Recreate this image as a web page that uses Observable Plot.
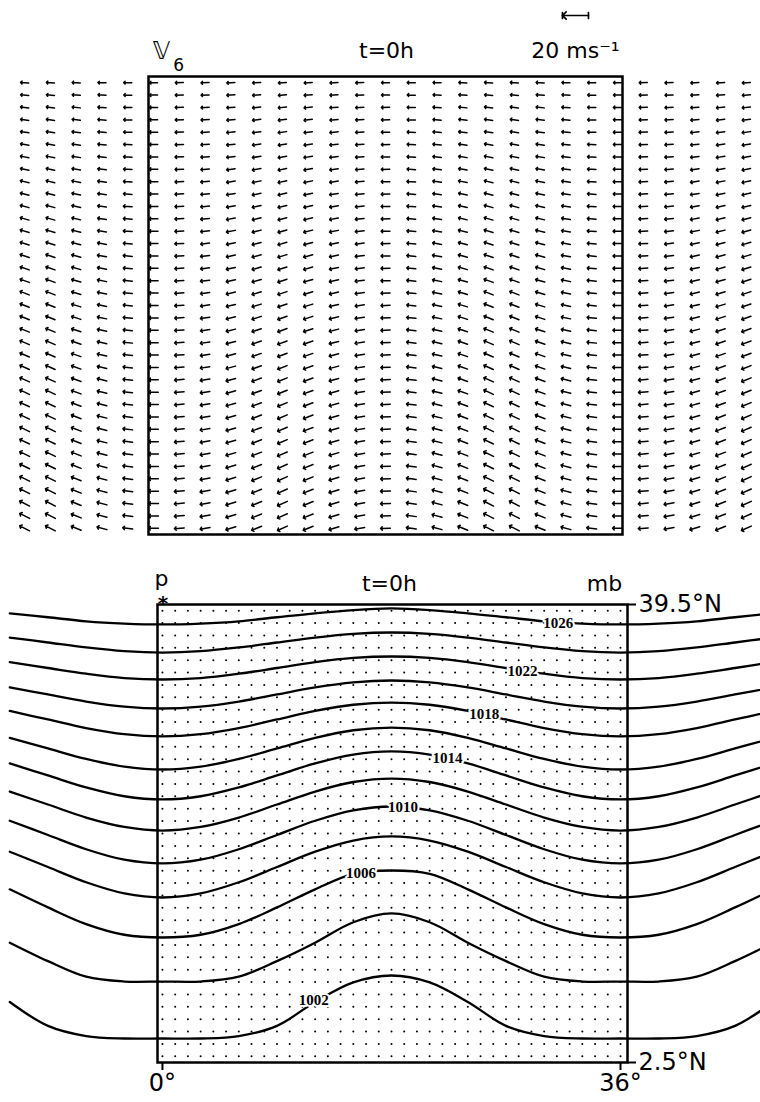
<!DOCTYPE html>
<html><head><meta charset="utf-8">
<script src="https://cdn.jsdelivr.net/npm/d3@7"></script>
<script src="https://cdn.jsdelivr.net/npm/@observablehq/plot@0.6"></script>
<style>
html,body{margin:0;padding:0;background:#fff;}
#chart svg{display:block;}
</style></head>
<body><div id="chart"></div>
<script>
// ---------- DATA ----------
const period = 36; // zonally periodic channel, degrees of longitude

// wind vectors (top panel), interior grid
const windLon = [0,2,4,6,8,10,12,14,16,18,20,22,24,26,28,30,32,34,36];
const windLat = [39,38,37,36,35,34,33,32,31,30,29,28,27,26,25,24,23,22,21,20,19,18,17,16,15,14,13,12,11,10,9,8,7,6,5,4,3];
// westward (zonal) wind speed per row, m/s
const windU = [6.2,6.2,6.3,6.3,6.4,6.4,6.5,6.5,6.6,6.6,6.7,6.7,6.8,6.8,6.9,6.9,7.0,7.0,7.0,7.1,7.1,7.2,7.2,7.2,7.3,7.3,7.3,7.4,7.4,7.4,7.5,7.5,7.5,7.6,7.6,7.6,7.6];
// arrow tilt from due west, degrees (+ toward north, - toward south), rows = windLat, cols = windLon
const windTilt = [
[0,-1,-2,-3,-3,-4,-3,-3,-2,0,1,2,3,4,4,3,2,1,0],
[0,-1,-2,-3,-4,-5,-4,-3,-2,0,2,3,4,5,5,4,3,1,0],
[0,-1,-3,-4,-6,-6,-6,-4,-3,-1,2,4,6,7,7,6,4,2,0],
[0,-2,-3,-5,-7,-7,-7,-5,-3,-1,2,5,7,8,8,7,5,2,0],
[0,-2,-3,-6,-7,-8,-7,-6,-3,-1,3,5,7,9,9,7,5,2,0],
[0,-2,-4,-6,-8,-9,-8,-6,-4,-1,3,6,8,10,10,8,6,3,0],
[0,-2,-4,-7,-9,-10,-9,-7,-4,-1,3,6,9,11,11,9,6,3,0],
[0,-2,-5,-8,-10,-11,-10,-8,-5,-1,4,7,10,12,12,10,7,3,0],
[0,-3,-5,-9,-11,-12,-11,-9,-5,-1,4,8,11,14,14,11,8,4,0],
[0,-3,-5,-9,-12,-13,-12,-9,-5,-1,4,8,12,14,14,12,8,4,0],
[0,-3,-6,-10,-12,-13,-12,-10,-6,-1,4,8,12,15,15,12,8,4,0],
[0,-3,-6,-10,-13,-14,-13,-10,-6,-1,5,9,13,16,16,13,9,4,0],
[0,-3,-6,-11,-14,-15,-14,-11,-6,-1,5,9,14,17,17,14,9,4,0],
[0,-3,-7,-11,-15,-16,-15,-11,-7,-1,5,10,15,18,18,15,10,5,0],
[0,-3,-7,-12,-15,-17,-15,-12,-7,-1,6,10,15,19,19,15,10,5,0],
[0,-4,-7,-12,-16,-17,-16,-12,-7,-1,6,11,16,19,19,16,11,5,0],
[0,-4,-7,-13,-16,-18,-16,-13,-7,-1,6,11,16,20,20,16,11,5,0],
[0,-4,-8,-13,-17,-18,-17,-13,-8,-2,6,12,17,21,21,17,12,5,0],
[0,-4,-8,-13,-17,-19,-17,-13,-8,-2,6,12,17,21,21,17,12,6,0],
[0,-4,-8,-14,-18,-19,-18,-14,-8,-2,6,12,18,22,22,18,12,6,0],
[0,-4,-8,-14,-18,-20,-18,-14,-8,-2,7,12,18,22,22,18,12,6,0],
[0,-4,-9,-14,-19,-20,-19,-14,-9,-2,7,13,19,23,23,19,13,6,0],
[0,-4,-9,-15,-19,-21,-19,-15,-9,-2,7,13,19,23,23,19,13,6,0],
[0,-4,-9,-15,-20,-21,-20,-15,-9,-2,7,13,20,24,24,20,13,6,0],
[0,-5,-9,-15,-20,-22,-20,-15,-9,-2,7,14,20,24,24,20,14,6,0],
[0,-5,-9,-16,-20,-22,-20,-16,-9,-2,7,14,20,25,25,20,14,6,0],
[0,-5,-9,-16,-20,-22,-20,-16,-9,-2,7,14,20,25,25,20,14,7,0],
[0,-5,-9,-16,-21,-23,-21,-16,-9,-2,8,14,21,25,25,21,14,7,0],
[0,-5,-10,-16,-21,-23,-21,-16,-10,-2,8,14,21,26,26,21,14,7,0],
[0,-5,-10,-16,-21,-23,-21,-16,-10,-2,8,14,21,26,26,21,14,7,0],
[0,-5,-10,-16,-21,-23,-21,-16,-10,-2,8,15,21,26,26,21,15,7,0],
[0,-5,-10,-17,-22,-24,-22,-17,-10,-2,8,15,22,26,26,22,15,7,0],
[0,-5,-10,-17,-22,-24,-22,-17,-10,-2,8,15,22,26,26,22,15,7,0],
[0,-5,-10,-17,-22,-24,-22,-17,-10,-2,8,15,22,27,27,22,15,7,0],
[0,-5,-10,-17,-22,-24,-22,-17,-10,-2,8,15,22,27,27,22,15,7,0],
[0,-5,-10,-17,-22,-24,-22,-17,-10,-2,8,15,22,27,27,22,15,7,0],
[0,-5,-10,-17,-22,-24,-22,-17,-10,-2,8,15,22,27,27,22,15,7,0]
];
const keySpeed = [20]; // reference arrow, m/s

// surface pressure isobars (bottom panel): latitude of each isobar at these longitudes
const contourLon = [0,3,6,9,12,15,18,21,24,27,30,33,36];
const levels = [1026,1024,1022,1020,1018,1016,1014,1012,1010,1008,1006,1004,1002];
const contourLat = [
[37.89,37.96,38.14,38.47,38.79,39.05,39.18,39.05,38.79,38.47,38.14,37.96,37.89],
[35.62,35.73,36.03,36.43,36.83,37.13,37.24,37.13,36.83,36.43,36.03,35.73,35.62],
[33.44,33.56,33.91,34.37,34.84,35.18,35.30,35.18,34.84,34.37,33.91,33.56,33.44],
[31.10,31.25,31.66,32.23,32.80,33.21,33.36,33.21,32.80,32.23,31.66,31.25,31.10],
[28.84,29.02,29.52,30.21,30.90,31.40,31.58,31.40,30.90,30.21,29.52,29.02,28.84],
[26.17,26.40,27.02,27.87,28.72,29.34,29.56,29.34,28.72,27.87,27.02,26.40,26.17],
[23.75,24.01,24.72,25.69,26.66,27.37,27.63,27.37,26.66,25.69,24.72,24.01,23.75],
[21.24,21.53,22.29,23.34,24.39,25.16,25.44,25.16,24.39,23.34,22.29,21.53,21.24],
[18.58,18.88,19.73,20.88,22.03,22.87,23.18,22.87,22.03,20.88,19.73,18.88,18.58],
[15.83,16.16,17.06,18.29,19.53,20.43,20.76,20.43,19.53,18.29,17.06,16.16,15.83],
[12.60,12.82,13.68,15.03,16.49,17.74,18.01,17.74,16.49,15.03,13.68,12.82,12.60],
[9.04,9.04,9.43,10.69,12.18,13.83,14.54,13.83,12.18,10.69,9.43,9.04,9.04],
[4.44,4.44,4.64,5.46,7.39,8.97,9.53,8.97,7.39,5.46,4.64,4.44,4.44]
];
// isobar labels
const labelLevels = [1026,1022,1018,1014,1010,1006,1002];
const labelLon = [31.1,28.3,25.3,22.4,18.9,15.6,11.9];
const labelLat = [38.0,34.15,30.6,27.05,23.15,17.8,7.55];

// axis ticks
const lonTicks = [0,36];
const latTicks = [2.5,39.5];

// ---------- BUILD ----------
const vectors = [];
windLat.forEach((lat, i) => {
  windLon.forEach((lon, j) => {
    const tilt = windTilt[i][j];
    const speed = windU[i] / Math.cos(tilt * Math.PI / 180);
    for (const shift of [-period, 0, period]) {
      const xlon = lon + shift;
      if (xlon < -10 || xlon > 46) continue;
      if (shift !== 0 && (lon === 0 || lon === 36)) continue;
      vectors.push({lon: xlon, lat, speed, dir: 270 + tilt});
    }
  });
});

const dots = [];
for (const lat of d3.range(3, 40)) for (const lon of d3.range(0, 37)) dots.push({lon, lat});

const isobars = [];
levels.forEach((p, i) => {
  for (let k = -4; k <= 16; k++) {
    const idx = ((k % 12) + 12) % 12;
    isobars.push({p, lon: contourLon[idx] + period * Math.floor(k / 12), lat: contourLat[i][idx]});
  }
});
const isoLabels = labelLevels.map((p, i) => ({p, lon: labelLon[i], lat: labelLat[i]}));

const font = "DejaVu Sans";
const baseStyle = {fontFamily: font, color: "black", background: "white", overflow: "visible"};

const topChart = Plot.plot({
  width: 760, height: 548,
  marginTop: 76, marginBottom: 14, marginLeft: 148, marginRight: 138,
  x: {domain: [-0.39, 36.39], axis: null},
  y: {domain: [2.5, 39.5], axis: null},
  length: {domain: [0, 20], range: [0, 26]},
  style: baseStyle,
  marks: [
    Plot.frame({stroke: "black", strokeWidth: 2.5}),
    Plot.vector(vectors, {x: "lon", y: "lat", length: "speed", rotate: "dir", anchor: "middle",
      stroke: "black", strokeWidth: 1.5, r: 3}),
    // reference arrow 20 m/s
    Plot.vector(keySpeed, {x: () => 32.74, length: d => d, rotate: 270, anchor: "middle",
      frameAnchor: "top", dy: -61, stroke: "black", strokeWidth: 1.7, r: 2.5}),
    Plot.vector(keySpeed, {x: () => 32.74, length: () => 4.5, rotate: 0, anchor: "middle",
      frameAnchor: "top", dy: -61, dx: -13, stroke: "black", strokeWidth: 1.7, r: 0}),
    Plot.vector(keySpeed, {x: () => 32.74, length: () => 4.5, rotate: 0, anchor: "middle",
      frameAnchor: "top", dy: -61, dx: 13, stroke: "black", strokeWidth: 1.7, r: 0}),
    Plot.text(["20 ms⁻¹"], {x: () => 32.74, text: d => d, frameAnchor: "top", dy: -19,
      lineAnchor: "bottom", textAnchor: "middle", fontSize: 22}),
    Plot.text(["t=0h"], {x: () => 18.08, text: d => d, frameAnchor: "top", dy: -19,
      lineAnchor: "bottom", textAnchor: "middle", fontSize: 22}),
    Plot.text(["𝕍"], {x: () => 0.62, text: d => d, frameAnchor: "top", dy: -18,
      lineAnchor: "bottom", textAnchor: "middle", fontSize: 24}),
    Plot.text(["6"], {x: () => 1.95, text: d => d, frameAnchor: "top", dy: -6,
      lineAnchor: "bottom", textAnchor: "middle", fontSize: 17})
  ]
});

const bottomChart = Plot.plot({
  width: 760, height: 554,
  marginTop: 56, marginBottom: 40, marginLeft: 157, marginRight: 133,
  x: {domain: [-0.39, 36.55]},
  y: {domain: [2.5, 39.5]},
  style: baseStyle,
  marks: [
    Plot.dot(dots, {x: "lon", y: "lat", r: 1, fill: "black", stroke: null}),
    Plot.line(isobars, {x: "lon", y: "lat", z: "p", curve: "catmull-rom", stroke: "black", strokeWidth: 2.3}),
    Plot.text(isoLabels, {x: "lon", y: "lat", text: d => String(d.p), fontFamily: "Liberation Serif",
      fontWeight: "bold", fontSize: 15, fill: "black", stroke: "white", strokeWidth: 4}),
    Plot.frame({stroke: "black", strokeWidth: 2.5}),
    Plot.axisX({ticks: lonTicks, tickFormat: d => d + "°", tickSize: 8, tickPadding: 3,
      fontSize: 24, label: null, strokeWidth: 2}),
    Plot.axisY({anchor: "right", ticks: latTicks, tickFormat: d => d + "°N", tickSize: 8,
      tickPadding: 3, fontSize: 24, label: null, strokeWidth: 2}),
    Plot.text(["p"], {x: () => -0.08, text: d => d, frameAnchor: "top", dy: -19,
      lineAnchor: "bottom", textAnchor: "middle", fontSize: 22}),
    Plot.text(["*"], {x: () => 0.05, text: d => d, frameAnchor: "top", dy: 5,
      lineAnchor: "bottom", textAnchor: "middle", fontSize: 20, fontWeight: "bold"}),
    Plot.text(["t=0h"], {x: () => 17.84, text: d => d, frameAnchor: "top", dy: -14,
      lineAnchor: "bottom", textAnchor: "middle", fontSize: 22}),
    Plot.text(["mb"], {x: () => 34.74, text: d => d, frameAnchor: "top", dy: -14,
      lineAnchor: "bottom", textAnchor: "middle", fontSize: 22})
  ]
});

const chart = document.getElementById("chart");
chart.appendChild(topChart);
chart.appendChild(bottomChart);
</script></body></html>
